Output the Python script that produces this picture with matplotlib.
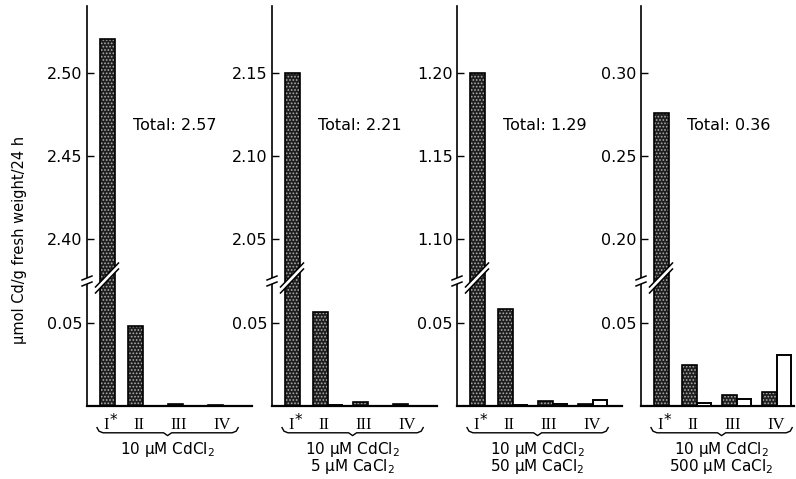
import numpy as np
import matplotlib
matplotlib.use("Agg")
import matplotlib.pyplot as plt
from matplotlib.patches import Polygon, Rectangle

# Cd uptake per fraction, umol Cd / g fresh weight / 24 h
conditions = [
    "10 µM CdCl$_2$",
    "10 µM CdCl$_2$\n5 µM CaCl$_2$",
    "10 µM CdCl$_2$\n50 µM CaCl$_2$",
    "10 µM CdCl$_2$\n500 µM CaCl$_2$",
]
totals = [2.57, 2.21, 1.29, 0.36]
fraction_labels = ["I", "II", "III", "IV"]

# stippled bars, fractions I..IV
dark_1 = [2.52, 0.048, 0.0015, 0.0005]
dark_2 = [2.15, 0.0565, 0.0026, 0.0012]
dark_3 = [1.20, 0.058, 0.003, 0.001]
dark_4 = [0.276, 0.0244, 0.0067, 0.0085]
# open bars, fractions II..IV
white_1 = [0.0, 0.0, 0.0]
white_2 = [0.0005, 0.0, 0.0]
white_3 = [0.0006, 0.001, 0.0036]
white_4 = [0.002, 0.004, 0.0307]

upper_ticks = [
    [2.40, 2.45, 2.50],
    [2.05, 2.10, 2.15],
    [1.10, 1.15, 1.20],
    [0.20, 0.25, 0.30],
]
lower_ticks = [0.05]

dark_vals = [dark_1, dark_2, dark_3, dark_4]
white_vals = [white_1, white_2, white_3, white_4]

# axis break: lower segment 0..BREAK_LO, upper segment from break_hi upward
BREAK_LO = 0.075
break_hi = [2.375, 2.025, 1.075, 0.175]
UPPER_SPAN = 0.165

# layout in pixels
FIG_W, FIG_H = 796, 479
axis_x = [87, 272, 457, 641]
axis_w = [165, 165, 165, 153]
BASE_Y, TOP_Y = 406, 6
PX_PER_UNIT = 40.0   # x data unit

plt.rcParams["font.family"] = "DejaVu Sans"
plt.rcParams["hatch.linewidth"] = 0.8


def make_break_scale(lo, hi):
    shift = hi - lo

    def fwd(y):
        y = np.asarray(y, dtype=float)
        return np.where(y <= lo, y, np.where(y >= hi, y - shift, lo))

    def inv(t):
        t = np.asarray(t, dtype=float)
        return np.where(t <= lo, t, t + shift)

    return fwd, inv


def draw_breaks(ax, w_px, h_px, bar_x, bar_w):
    # y position of the break in axes fraction
    yb = BREAK_LO / (BREAK_LO + UPPER_SPAN)
    fx = 1.0 / w_px
    fy = 1.0 / h_px
    tr = ax.transAxes

    # gap and double slash on the left spine
    ax.add_patch(Rectangle((-3 * fx, yb - 3 * fy), 6 * fx, 6 * fy, transform=tr,
                           facecolor="white", edgecolor="none", clip_on=False, zorder=5))
    for off in (-3, 3):
        ax.plot([-5 * fx, 5 * fx], [yb + (off - 2) * fy, yb + (off + 2) * fy],
                transform=tr, color="black", lw=1.1, clip_on=False, zorder=6)

    # white slash through the tall bar
    xc = bar_x / (w_px / PX_PER_UNIT)
    half = (bar_w * PX_PER_UNIT / 2 + 4) * fx
    dy = 12 * fy
    yc = yb + 3 * fy
    sep = 3 * fy
    poly = [(xc - half, yc - dy - sep), (xc + half, yc + dy - sep),
            (xc + half, yc + dy + sep), (xc - half, yc - dy + sep)]
    ax.add_patch(Polygon(poly, closed=True, transform=tr, facecolor="white",
                         edgecolor="none", clip_on=False, zorder=5))
    for s in (-sep, sep):
        ax.plot([xc - half, xc + half], [yc - dy + s, yc + dy + s], transform=tr,
                color="black", lw=1.1, clip_on=False, zorder=6)


fig = plt.figure(figsize=(FIG_W / 100, FIG_H / 100), dpi=100)

bar_w = 0.375
white_w = 0.35
x_first = 0.5
group_edges = np.array([1.4, 2.4, 3.4])

for i in range(4):
    left = axis_x[i] / FIG_W
    bottom = (FIG_H - BASE_Y) / FIG_H
    height = (BASE_Y - TOP_Y) / FIG_H
    width = axis_w[i] / FIG_W
    ax = fig.add_axes([left, bottom, width, height])

    hi = break_hi[i]
    ax.set_yscale("function", functions=make_break_scale(BREAK_LO, hi))
    ax.set_ylim(0, hi + UPPER_SPAN)
    ax.set_xlim(0, axis_w[i] / PX_PER_UNIT)

    dark_x = np.concatenate([[x_first], group_edges - bar_w / 2])
    white_x = group_edges + white_w / 2

    # stippled fill, then black outline
    ax.bar(dark_x, dark_vals[i], width=bar_w, color="#1e1e1e", edgecolor="#acacac",
           hatch=".....", linewidth=0, zorder=2)
    ax.bar(dark_x, dark_vals[i], width=bar_w, fill=False, edgecolor="black",
           linewidth=1.2, zorder=3)
    ax.bar(white_x, white_vals[i], width=white_w, color="white", edgecolor="black",
           linewidth=1.4, zorder=3)

    ticks = lower_ticks + upper_ticks[i]
    ax.set_yticks(ticks)
    ax.set_yticklabels([f"{t:.2f}" for t in ticks])
    ax.tick_params(axis="y", direction="in", length=5, width=1, pad=3, labelsize=11.5)
    ax.set_xticks([])
    for side in ("top", "right"):
        ax.spines[side].set_visible(False)
    ax.spines["left"].set_linewidth(1.2)
    ax.spines["bottom"].set_linewidth(1.6)
    ax.patch.set_alpha(0)

    draw_breaks(ax, axis_w[i], BASE_Y - TOP_Y, x_first, bar_w)

    xt = ax.get_xaxis_transform()
    ax.text(1.15, 0.70, f"Total: {totals[i]:.2f}", transform=xt, fontsize=11.5,
            ha="left", va="center")

    # fraction labels under the bars
    label_x = [0.48, 1.3, 2.3, 3.38]
    for lx, lab in zip(label_x, fraction_labels):
        ax.text(lx, -0.048, lab, transform=xt, fontsize=12, family="Liberation Serif",
                ha="center", va="center", clip_on=False)
    ax.text(label_x[0] + 0.17, -0.036, "*", transform=xt, fontsize=11,
            ha="center", va="center", clip_on=False)

    # brace under the fraction labels
    x0, x1 = 0.25, 3.78
    xc = (x0 + x1) / 2
    bx = [x0, x0 + 0.05, x0 + 0.15, xc - 0.1, xc, xc + 0.1, x1 - 0.15, x1 - 0.05, x1]
    by = [-0.054, -0.063, -0.067, -0.067, -0.074, -0.067, -0.067, -0.063, -0.054]
    ax.plot(bx, by, transform=xt, color="black", lw=1.0, clip_on=False)

    # treatment, one line of text per salt
    for k, line in enumerate(conditions[i].split("\n")):
        ax.text(xc, -0.108 - 0.043 * k, line, transform=xt, fontsize=11,
                ha="center", va="center", clip_on=False)

fig.text(0.025, (FIG_H - 240) / FIG_H, "µmol Cd/g fresh weight/24 h", rotation=90,
         ha="center", va="center", fontsize=10.5)

fig.savefig("out.png", dpi=100)
